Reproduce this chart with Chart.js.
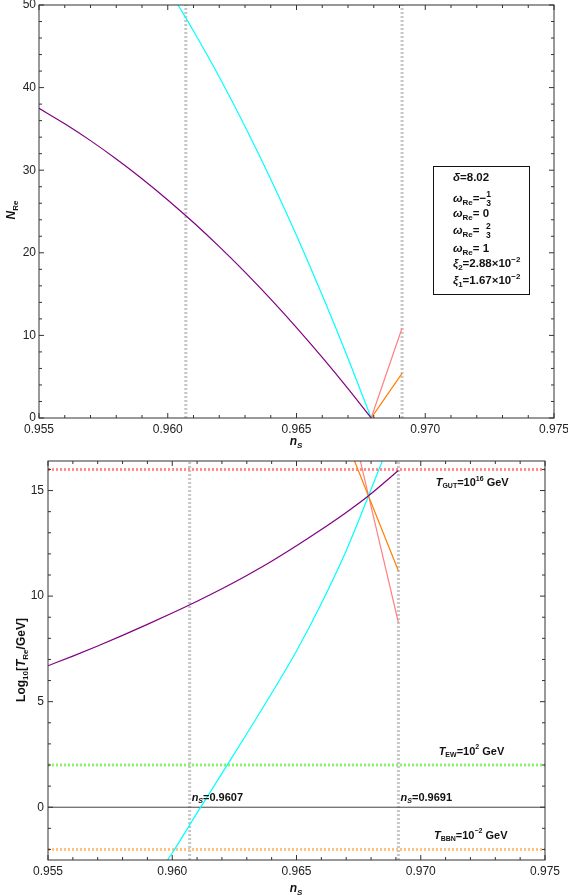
<!DOCTYPE html>
<html>
<head>
<meta charset="utf-8">
<script src="https://cdn.jsdelivr.net/npm/chart.js@4"></script>
<style>
  body { margin: 0; background: #fff; }
  canvas { position: absolute; left: 0; }
  #top { top: 0; }
  #bot { top: 450px; }
</style>
</head>
<body>
<canvas id="top" width="568" height="450"></canvas>
<canvas id="bot" width="568" height="445"></canvas>
<script>
// axis ranges and tick labels
const xRange = [0.955, 0.975];
const xTicks = [0.955, 0.960, 0.965, 0.970, 0.975];
const topYRange = [0, 50];
const topYTicks = [0, 10, 20, 30, 40, 50];
const botYRange = [-2.5, 16.4];
const botYTicks = [0, 5, 10, 15];

// top panel: N_Re vs n_s
const nsPurpleTop = [0.955, 0.956, 0.957, 0.958, 0.959, 0.960, 0.961, 0.962, 0.963, 0.964, 0.965, 0.966, 0.967, 0.9679];
const nRePurple = [37.49, 35.62, 33.58, 31.36, 28.97, 26.40, 23.66, 20.74, 17.66, 14.39, 10.95, 7.34, 3.56, 0];
const nsCyanTop = [0.9604, 0.961, 0.962, 0.963, 0.964, 0.965, 0.966, 0.967, 0.9679];
const nReCyan = [50, 46.85, 41.29, 35.30, 28.91, 22.09, 14.87, 7.23, 0];
const nsShortTop = [0.9679, 0.9691];
const nRePink = [0, 10.9];
const nReOrange = [0, 5.4];

// bottom panel: log10(T_Re/GeV) vs n_s
const nsPurpleBot = [0.955, 0.956, 0.957, 0.958, 0.959, 0.960, 0.961, 0.962, 0.963, 0.964, 0.965, 0.966, 0.967, 0.9679, 0.9691];
const logTPurple = [6.7, 7.16, 7.64, 8.14, 8.66, 9.2, 9.76, 10.35, 10.98, 11.65, 12.38, 13.15, 13.96, 14.75, 15.95];
const nsCyanBot = [0.9597, 0.960, 0.961, 0.962, 0.963, 0.964, 0.965, 0.966, 0.967, 0.9679, 0.9685];
const logTCyan = [-2.7, -2.17, -0.27, 1.6, 3.48, 5.4, 7.4, 9.65, 12.15, 14.75, 16.55];
const nsOrangeBot = [0.9673, 0.9691];
const logTOrange = [16.5, 11.2];
const nsPinkBot = [0.96755, 0.9691];
const logTPink = [16.5, 8.75];

// reference lines
const nsMarks = [0.9607, 0.9691];
const refLevels = [16, 2, -2];
const refColors = ['#ff8c8c', '#8cf36c', '#ffc27f'];

const FONT = "'Liberation Sans', Arial, sans-serif";
const PURPLE = '#800080', CYAN = '#00ffff', PINK = '#ff8080', ORANGE = '#ff8000';
const MARK_GRAY = '#c6c6c6';

const pts = (xs, ys) => xs.map((x, i) => ({ x, y: ys[i] }));

function curve(data, color) {
  return { data, borderColor: color, borderWidth: 1.2, pointRadius: 0, cubicInterpolationMode: 'monotone', order: 1 };
}
function dotted(data, color) {
  return { data, borderColor: color, borderWidth: 3, borderDash: [2, 2], pointRadius: 0, order: 3 };
}

// rich text helpers (italic, sub, sup, small fraction)
function richFont(k, size) {
  const small = k.includes('s') || k.includes('p');
  const sz = small ? Math.round(size * 0.68) : size;
  return (k.includes('i') ? 'italic ' : '') + 'bold ' + sz + 'px ' + FONT;
}
function partWidth(ctx, p, size) {
  const k = p[1] || '';
  if (k === 'f') {
    ctx.font = 'bold 8.5px ' + FONT;
    const [n, d] = p[0].split('/');
    return Math.max(ctx.measureText(n).width, ctx.measureText(d).width) + 1;
  }
  ctx.font = richFont(k, size);
  return ctx.measureText(p[0]).width;
}
function drawRich(ctx, parts, x, y, size, align) {
  ctx.textBaseline = 'middle';
  ctx.textAlign = 'left';
  ctx.fillStyle = '#111';
  const ws = parts.map(p => partWidth(ctx, p, size));
  let cx = align === 'center' ? x - ws.reduce((a, b) => a + b, 0) / 2 : x;
  parts.forEach((p, i) => {
    const k = p[1] || '';
    if (k === 'f') {
      const [n, d] = p[0].split('/');
      ctx.font = 'bold 8.5px ' + FONT;
      ctx.fillText(n, cx, y - 4.5);
      ctx.fillText(d, cx, y + 5);
    } else {
      ctx.font = richFont(k, size);
      const dy = k.includes('s') ? size * 0.3 : k.includes('p') ? -size * 0.4 : 0;
      ctx.fillText(p[0], cx, y + dy);
    }
    cx += ws[i];
  });
}

// frame with inward minor/major ticks
function framePlugin(yMinor, yMajor) {
  return {
    id: 'frame',
    afterDatasetsDraw(chart) {
      const { ctx, chartArea: a, scales: { x, y } } = chart;
      ctx.save();
      ctx.strokeStyle = '#333';
      ctx.lineWidth = 1;
      ctx.strokeRect(a.left, a.top, a.right - a.left, a.bottom - a.top);
      ctx.beginPath();
      for (let i = 0; i <= 20; i++) {
        const px = x.getPixelForValue(xRange[0] + i * 0.001);
        const len = i % 5 === 0 ? 5 : 3;
        ctx.moveTo(px, a.bottom); ctx.lineTo(px, a.bottom - len);
        ctx.moveTo(px, a.top); ctx.lineTo(px, a.top + len);
      }
      for (let v = Math.ceil(y.min / yMinor) * yMinor; v <= y.max + 1e-9; v += yMinor) {
        const py = y.getPixelForValue(v);
        const r = v / yMajor;
        const len = Math.abs(r - Math.round(r)) < 1e-6 ? 5 : 3;
        ctx.moveTo(a.left, py); ctx.lineTo(a.left + len, py);
        ctx.moveTo(a.right, py); ctx.lineTo(a.right - len, py);
      }
      ctx.stroke();
      ctx.restore();
    }
  };
}

function scalesFor(yRange, yTicks, yWidth, xHeight, yPad) {
  return {
    x: {
      type: 'linear', min: xRange[0], max: xRange[1],
      grid: { display: false, drawTicks: false }, border: { display: false },
      afterBuildTicks: s => { s.ticks = xTicks.map(v => ({ value: v })); },
      afterFit: s => { s.height = xHeight; s.paddingLeft = 0; s.paddingRight = 0; },
      ticks: { maxRotation: 0, padding: 4, color: '#222', font: { family: FONT, size: 12 }, callback: v => v.toFixed(3) }
    },
    y: {
      min: yRange[0], max: yRange[1],
      grid: { display: false, drawTicks: false }, border: { display: false },
      afterBuildTicks: s => { s.ticks = yTicks.map(v => ({ value: v })); },
      afterFit: s => { s.width = yWidth; s.paddingTop = 0; s.paddingBottom = 0; },
      ticks: { padding: yPad, color: '#222', font: { family: FONT, size: 12 } }
    }
  };
}

// top chart
const topTitles = {
  id: 'topTitles',
  afterDraw(chart) {
    const ctx = chart.ctx;
    ctx.save();
    drawRich(ctx, [['n', 'i'], ['S', 'is']], 296, 442, 12, 'center');
    ctx.translate(12, 210);
    ctx.rotate(-Math.PI / 2);
    drawRich(ctx, [['N', 'i'], ['Re', 's']], 0, 0, 12, 'center');
    ctx.restore();

    // legend box
    ctx.save();
    ctx.fillStyle = '#fff';
    ctx.fillRect(433, 166, 96, 128);
    ctx.strokeStyle = '#111';
    ctx.lineWidth = 1;
    ctx.strokeRect(433.5, 166.5, 96, 128);
    const rows = [
      [[['δ', 'i'], ['=8.02', '']], 178],
      [[['ω', 'i'], ['Re', 's'], ['=−', ''], ['1/3', 'f']], 199],
      [[['ω', 'i'], ['Re', 's'], ['= 0', '']], 214],
      [[['ω', 'i'], ['Re', 's'], ['=  ', ''], ['2/3', 'f']], 231],
      [[['ω', 'i'], ['Re', 's'], ['= 1', '']], 249],
      [[['ξ', 'i'], ['2', 's'], ['=2.88×10', ''], ['−2', 'p']], 264],
      [[['ξ', 'i'], ['1', 's'], ['=1.67×10', ''], ['−2', 'p']], 281]
    ];
    rows.forEach(r => drawRich(ctx, r[0], 453, r[1], 11.5, 'left'));
    ctx.restore();
  }
};

new Chart(document.getElementById('top'), {
  type: 'line',
  data: {
    datasets: [
      curve(pts(nsPurpleTop, nRePurple), PURPLE),
      curve(pts(nsCyanTop, nReCyan), CYAN),
      curve(pts(nsShortTop, nRePink), PINK),
      curve(pts(nsShortTop, nReOrange), ORANGE),
      ...nsMarks.map(m => dotted(pts([m, m], topYRange), MARK_GRAY))
    ]
  },
  options: {
    responsive: false, animation: false, devicePixelRatio: 1,
    layout: { padding: { top: 5, right: 14, left: 0, bottom: 0 } },
    plugins: { legend: { display: false }, tooltip: { enabled: false } },
    scales: scalesFor(topYRange, topYTicks, 39, 32, 3)
  },
  plugins: [framePlugin(2, 10), topTitles]
});

// bottom chart
const botTitles = {
  id: 'botTitles',
  afterDraw(chart) {
    const { ctx, scales: { x, y } } = chart;
    ctx.save();
    drawRich(ctx, [['n', 'i'], ['S', 'is']], 296, 439, 12, 'center');
    const labels = [
      [[['T', 'i'], ['GUT', 's'], ['=10', ''], ['16', 'p'], [' GeV', '']], 0.9706, 15.35],
      [[['T', 'i'], ['EW', 's'], ['=10', ''], ['2', 'p'], [' GeV', '']], 0.97072, 2.62],
      [[['T', 'i'], ['BBN', 's'], ['=10', ''], ['−2', 'p'], [' GeV', '']], 0.97053, -1.34],
      [[['n', 'i'], ['S', 'is'], ['=0.9607', '']], 0.96078, 0.44],
      [[['n', 'i'], ['S', 'is'], ['=0.9691', '']], 0.96919, 0.45]
    ];
    labels.forEach(l => drawRich(ctx, l[0], x.getPixelForValue(l[1]), y.getPixelForValue(l[2]), 11, 'left'));
    ctx.translate(22, 210);
    ctx.rotate(-Math.PI / 2);
    drawRich(ctx, [['Log', ''], ['10', 's'], ['[', ''], ['T', 'i'], ['Re', 's'], ['/GeV]', '']], 0, 0, 12, 'center');
    ctx.restore();
  }
};

new Chart(document.getElementById('bot'), {
  type: 'line',
  data: {
    datasets: [
      curve(pts(nsPurpleBot, logTPurple), PURPLE),
      curve(pts(nsCyanBot, logTCyan), CYAN),
      curve(pts(nsOrangeBot, logTOrange), ORANGE),
      curve(pts(nsPinkBot, logTPink), PINK),
      { data: pts(xRange, [0, 0]), borderColor: '#444', borderWidth: 1, pointRadius: 0, order: 2 },
      ...refLevels.map((lv, i) => dotted(pts(xRange, [lv, lv]), refColors[i])),
      ...nsMarks.map(m => dotted(pts([m, m], botYRange), MARK_GRAY))
    ]
  },
  options: {
    responsive: false, animation: false, devicePixelRatio: 1,
    layout: { padding: { top: 11, right: 23, left: 0, bottom: 0 } },
    plugins: { legend: { display: false }, tooltip: { enabled: false } },
    scales: scalesFor(botYRange, botYTicks, 48, 35, 4)
  },
  plugins: [framePlugin(1, 5), botTitles]
});
</script>
</body>
</html>
